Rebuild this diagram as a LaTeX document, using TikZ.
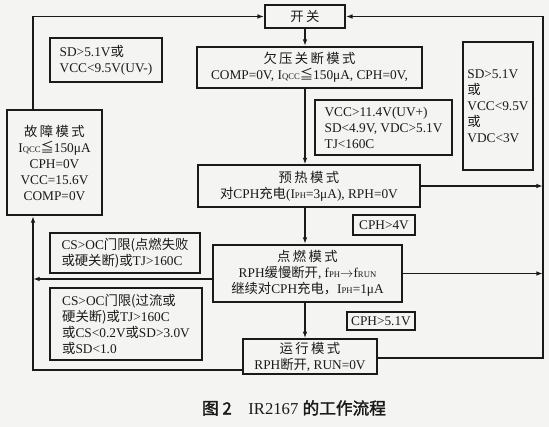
\documentclass[tikz,border=0pt]{standalone}
\usepackage{fontspec}
\setmainfont{Liberation Serif}
\newfontfamily\cjk{Noto Sans CJK SC}
\newfontfamily\cjkwide[LetterSpace=18]{Noto Sans CJK SC}
\newfontfamily\cjkcap[FakeBold=1.8]{Noto Sans CJK SC}
\usetikzlibrary{arrows.meta,positioning}
\definecolor{irInk}{HTML}{1A1A1A}
\definecolor{irPaper}{HTML}{F4F4F2}
\newcommand{\zh}[1]{{\cjk #1}}
\newcommand{\zhtitle}[1]{{\cjkwide #1}}
\newcommand{\lowsub}[1]{{\fontsize{6.5}{6.5}\selectfont #1}}
\tikzset{
  ir box/.style={draw=irInk, line width=1.3pt, inner sep=1pt, align=center,
    font=\fontsize{10}{12}\selectfont, text=irInk},
  ir cond/.style={ir box, align=left, inner xsep=3pt},
  ir flow/.style={draw=irInk, line width=1pt, -{Latex[length=5pt,width=3.5pt]}},
  ir line/.style={draw=irInk, line width=1pt},
}
\begin{document}
\begin{tikzpicture}[x=0.75pt,y=-0.75pt]
  \fill[irPaper] (0,0) rectangle (549,427);
  \useasboundingbox (0,0) rectangle (549,427);
  % mode boxes
  \node[ir box, minimum width=60pt, minimum height=17pt] (sw) at (305,16.5) {\zhtitle{开关}};
  \node[ir box, minimum width=169pt, minimum height=31pt] (uv) at (309.5,67.5)
    {\zhtitle{欠压关断模式}\\COMP=0V, I\lowsub{QCC}\zh{≦}150μA, CPH=0V,};
  \node[ir box, minimum width=166pt, minimum height=31pt] (ph) at (309,186)
    {\zhtitle{预热模式}\\\zh{对}CPH\zh{充电}(I\lowsub{PH}=3μA), RPH=0V};
  \node[ir box, minimum width=142pt, minimum height=43pt] (ig) at (307.5,273.5)
    {\zhtitle{点燃模式}\\RPH\zh{缓慢断开}, f\lowsub{PH}$\rightarrow$f\lowsub{RUN}\\\zh{继续对}CPH\zh{充电，}I\lowsub{PH}=1μA};
  \node[ir box, minimum width=100pt, minimum height=26pt] (run) at (310,356.5)
    {\zhtitle{运行模式}\\RPH\zh{断开}, RUN=0V};
  \node[ir box, minimum width=71pt, minimum height=79pt] (fault) at (54.5,162.5)
    {\zhtitle{故障模式}\\I\lowsub{QCC}\zh{≦}150μA\\CPH=0V\\VCC=15.6V\\COMP=0V};
  % condition boxes
  \node[ir cond, minimum width=84pt, minimum height=33pt] (c1) at (106,60)
    {SD>5.1V\zh{或}\\VCC<9.5V(UV-)};
  \node[ir cond, minimum width=52pt, minimum height=96pt] (c2) at (498,106)
    {SD>5.1V\\\zh{或}\\VCC<9.5V\\\zh{或}\\VDC<3V};
  \node[ir cond, minimum width=103pt, minimum height=41pt] (c3) at (383.5,127.5)
    {VCC>11.4V(UV+)\\SD<4.9V, VDC>5.1V\\TJ<160C};
  \node[ir cond, minimum width=46pt, minimum height=15pt] (c4) at (384,225) {CPH>4V};
  \node[ir cond, minimum width=112pt, minimum height=30pt] (c5) at (125,253)
    {CS>OC\zh{门限(点燃失败}\\\zh{或硬关断)或}TJ>160C};
  \node[ir cond, minimum width=114pt, minimum height=54pt] (c6) at (126,324)
    {CS>OC\zh{门限(过流或}\\\zh{硬关断)或}TJ>160C\\\zh{或}CS<0.2V\zh{或}SD>3.0V\\\zh{或}SD<1.0};
  \node[ir cond, minimum width=51pt, minimum height=14pt] (c7) at (381,321) {CPH>5.1V};
  % caption
  \node[font=\fontsize{12.5}{14}\selectfont, text=irInk] (cap) at (294,408)
    {{\cjkcap 图 2}\quad IR2167 {\cjkcap 的工作流程}};
  % rails
  \coordinate (ltop) at (33,16.5);
  \coordinate (lmid) at (33,279);
  \coordinate (lbot) at (33,370);
  \coordinate (rtop) at (543,16.5);
  \coordinate (rbot) at (543,358);
  % main flow
  \draw[ir flow] (sw.south) -- (sw.south |- uv.north);
  \draw[ir flow] (sw.south |- uv.south) -- (sw.south |- ph.north);
  \draw[ir flow] (sw.south |- ph.south) -- (sw.south |- ig.north);
  \draw[ir flow] (sw.south |- ig.south) -- (sw.south |- run.north);
  % fault loop on the left
  \draw[ir flow] (fault.north -| ltop) -- (ltop) -- (sw.west);
  \draw[ir flow] (ig.west |- lmid) -- (lmid);
  \draw[ir flow] (run.west |- lbot) -- (lbot) -- (fault.south -| lbot);
  % back to switch on the right
  \draw[ir line] (run.east |- rbot) -- (rbot) -- (rtop);
  \draw[ir flow] (rtop) -- (sw.east);
  \draw[ir flow] (ph.east) -- (ph.east -| rtop);
  \draw[ir flow] (ig.east) -- (ig.east -| rtop);
\end{tikzpicture}
\end{document}
